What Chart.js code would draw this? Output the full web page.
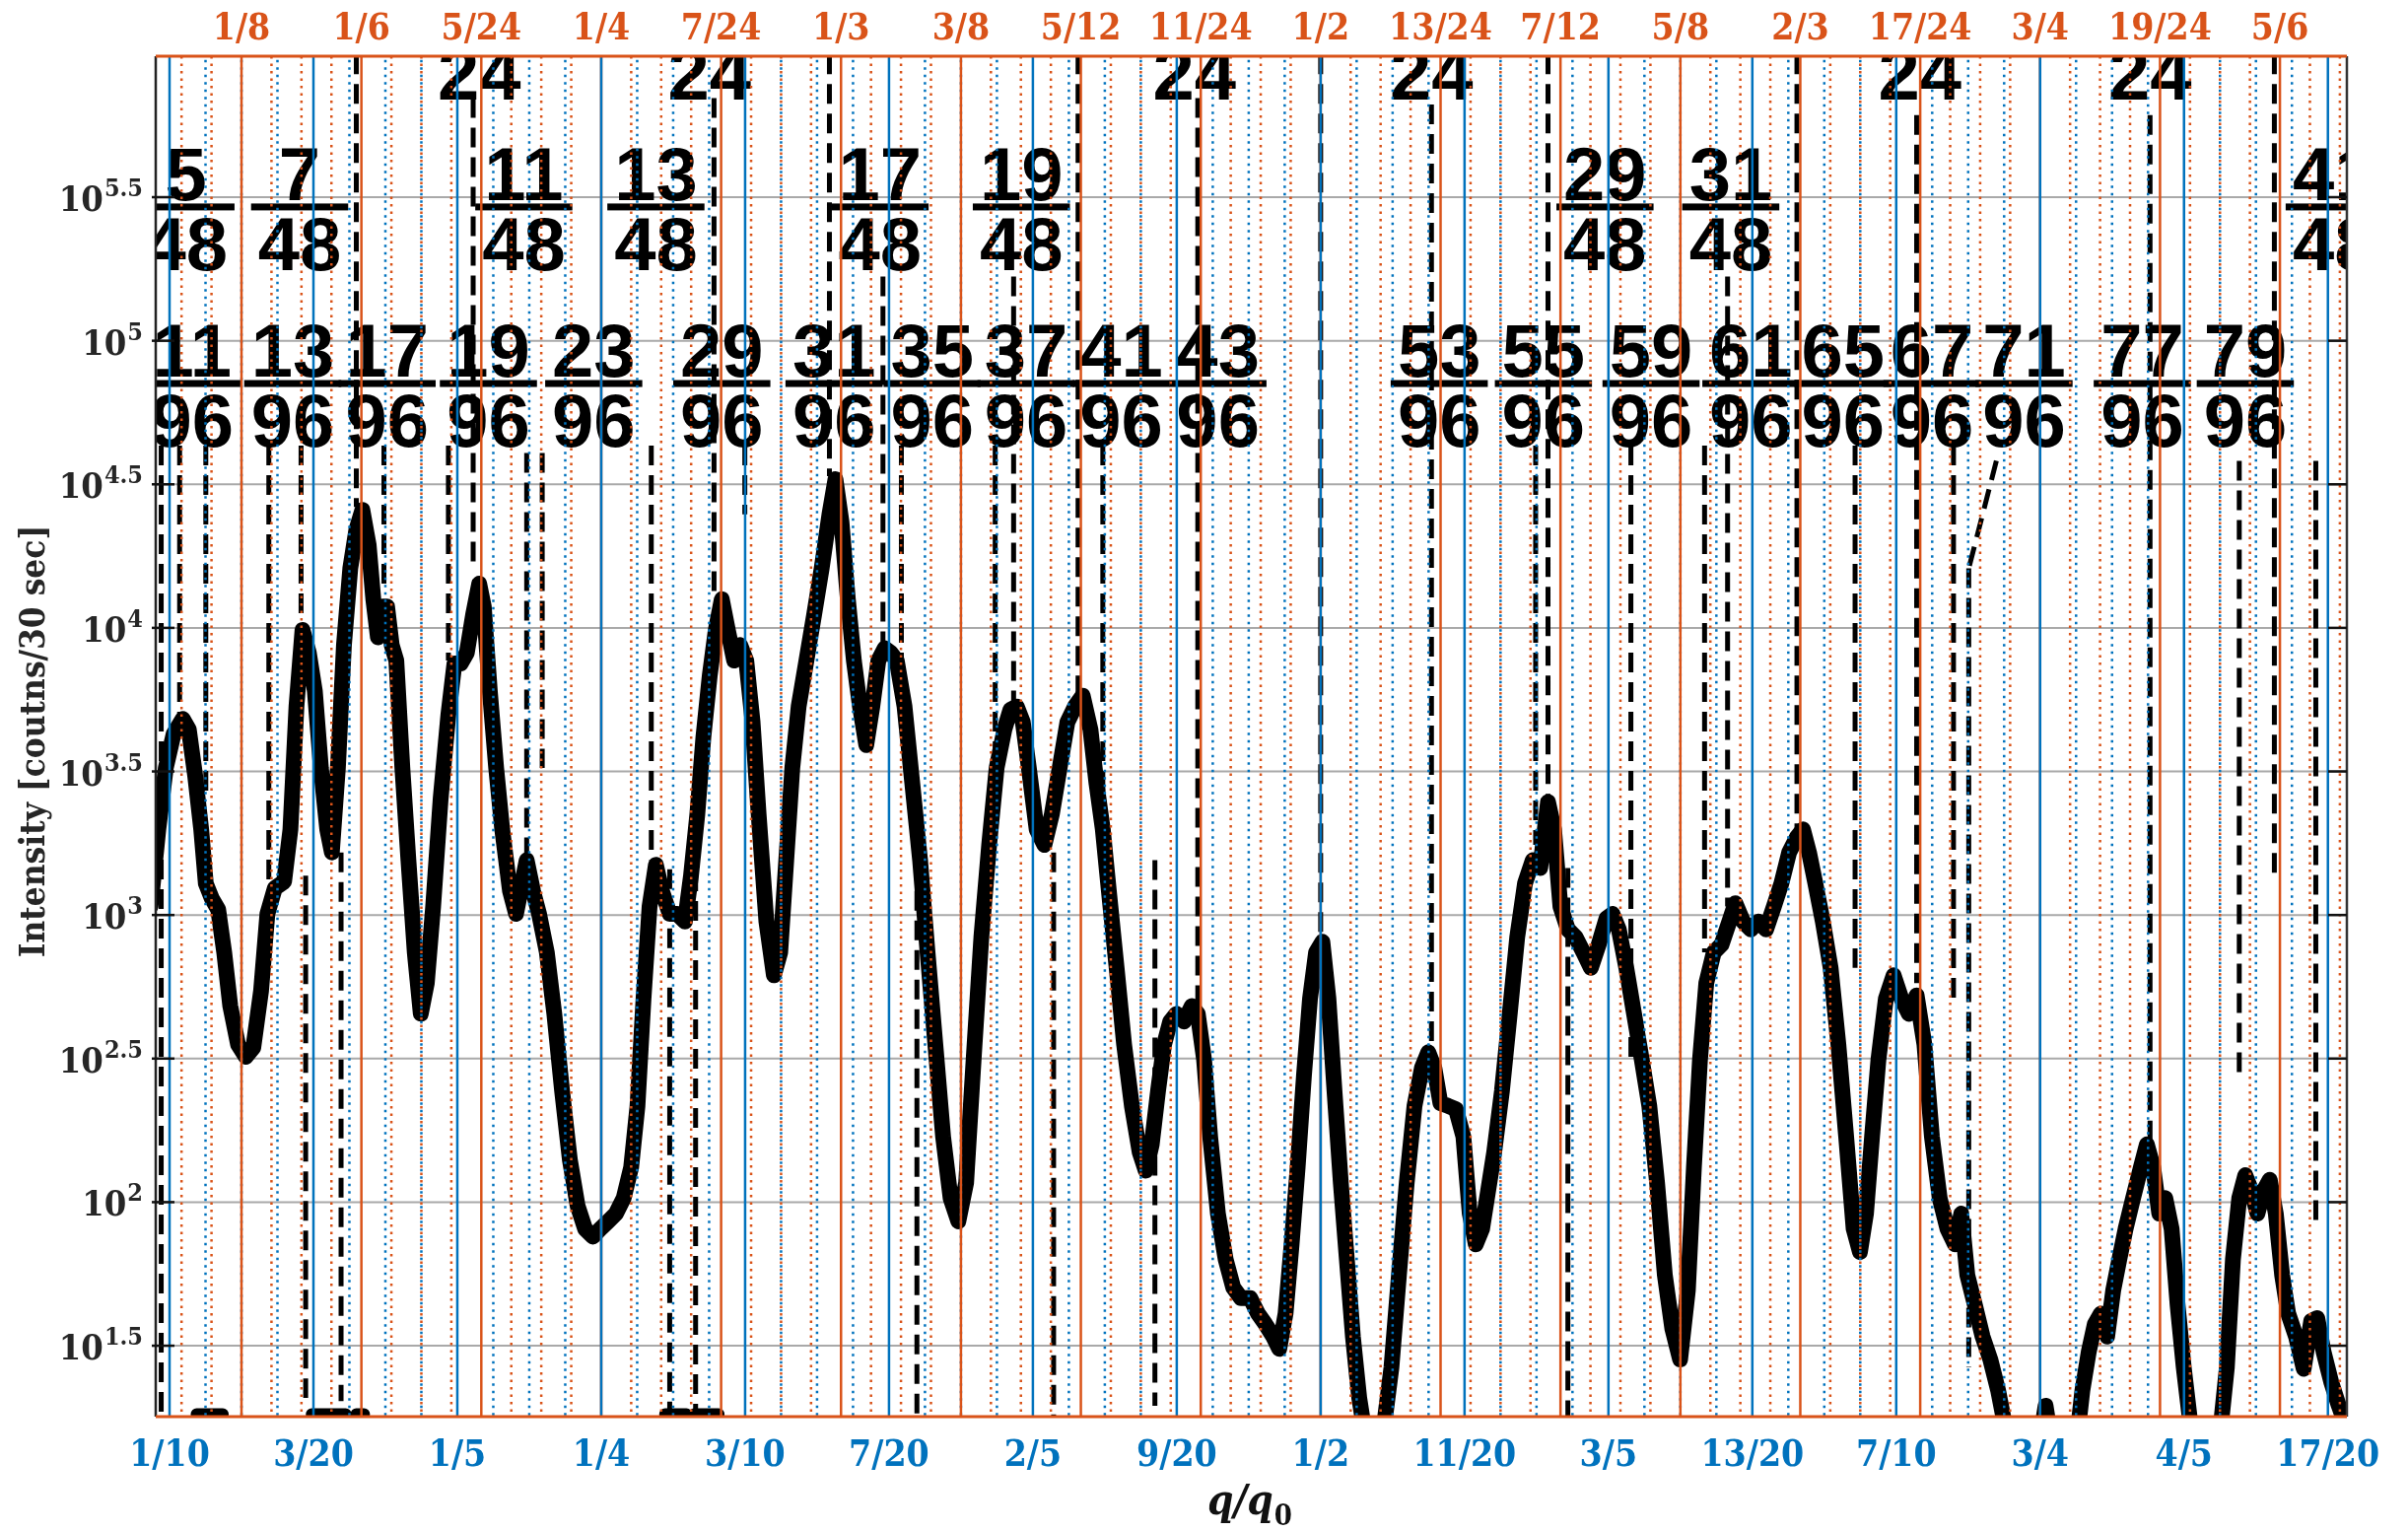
<!DOCTYPE html>
<html>
<head>
<meta charset="utf-8">
<script src="https://cdn.jsdelivr.net/npm/chart.js@4/dist/chart.umd.min.js"></script>
<style>
html,body{margin:0;padding:0;background:#fff;}
#wrap{width:2443px;height:1553px;position:relative;}
</style>
</head>
<body>
<div id="wrap"><canvas id="c" width="2443" height="1553"></canvas></div>
<script>
// ---------------- DATA ----------------
// Measured intensity curve: q/q0 and log10(intensity [counts/30 sec])
const qValues = [0.0934,0.0961,0.0987,0.1014,0.1046,0.1067,0.1089,0.1110,0.1126,0.1147,0.1169,0.1190,0.1211,0.1238,0.1265,0.1291,0.1318,0.1340,0.1366,0.1398,0.1420,0.1441,0.1462,0.1484,0.1505,0.1526,0.1548,0.1564,0.1585,0.1606,0.1628,0.1649,0.1670,0.1692,0.1708,0.1724,0.1740,0.1756,0.1772,0.1788,0.1809,0.1830,0.1852,0.1873,0.1894,0.1916,0.1942,0.1969,0.1990,0.2012,0.2033,0.2055,0.2076,0.2092,0.2113,0.2135,0.2156,0.2183,0.2204,0.2225,0.2241,0.2263,0.2284,0.2311,0.2337,0.2364,0.2391,0.2418,0.2444,0.2471,0.2497,0.2524,0.2551,0.2578,0.2604,0.2626,0.2647,0.2668,0.2690,0.2711,0.2738,0.2764,0.2791,0.2812,0.2834,0.2855,0.2877,0.2898,0.2919,0.2940,0.2962,0.2983,0.3004,0.3026,0.3047,0.3074,0.3100,0.3122,0.3143,0.3164,0.3186,0.3213,0.3240,0.3266,0.3293,0.3314,0.3335,0.3357,0.3378,0.3399,0.3421,0.3442,0.3463,0.3485,0.3506,0.3527,0.3554,0.3581,0.3608,0.3634,0.3661,0.3688,0.3714,0.3741,0.3768,0.3794,0.3821,0.3848,0.3874,0.3901,0.3922,0.3944,0.3965,0.3986,0.4013,0.4040,0.4066,0.4093,0.4120,0.4146,0.4173,0.4200,0.4221,0.4243,0.4264,0.4291,0.4317,0.4344,0.4371,0.4392,0.4413,0.4435,0.4456,0.4477,0.4499,0.4525,0.4552,0.4573,0.4595,0.4616,0.4643,0.4670,0.4696,0.4723,0.4755,0.4782,0.4808,0.4835,0.4856,0.4878,0.4899,0.4920,0.4942,0.4963,0.4984,0.5006,0.5027,0.5048,0.5070,0.5091,0.5112,0.5134,0.5155,0.5187,0.5219,0.5246,0.5272,0.5299,0.5326,0.5352,0.5374,0.5395,0.5416,0.5443,0.5470,0.5496,0.5518,0.5539,0.5561,0.5582,0.5603,0.5630,0.5657,0.5683,0.5710,0.5737,0.5763,0.5790,0.5811,0.5833,0.5859,0.5886,0.5913,0.5939,0.5966,0.5993,0.6014,0.6036,0.6062,0.6089,0.6116,0.6142,0.6169,0.6196,0.6222,0.6249,0.6276,0.6297,0.6318,0.6340,0.6366,0.6393,0.6420,0.6441,0.6468,0.6495,0.6521,0.6548,0.6575,0.6601,0.6628,0.6655,0.6676,0.6697,0.6719,0.6745,0.6772,0.6799,0.6826,0.6852,0.6874,0.6895,0.6916,0.6938,0.6964,0.6991,0.7018,0.7044,0.7071,0.7098,0.7124,0.7151,0.7178,0.7204,0.7226,0.7247,0.7274,0.7300,0.7327,0.7354,0.7380,0.7412,0.7455,0.7498,0.7519,0.7540,0.7588,0.7626,0.7647,0.7669,0.7690,0.7711,0.7733,0.7754,0.7775,0.7797,0.7823,0.7850,0.7871,0.7893,0.7914,0.7935,0.7957,0.7978,0.7999,0.8021,0.8042,0.8095,0.8127,0.8149,0.8170,0.8192,0.8213,0.8234,0.8255,0.8277,0.8298,0.8319,0.8341,0.8362,0.8389,0.8416,0.8442,0.8463,0.8485,0.8512,0.8538,0.8576];
const intensityLog10 = [3.03,3.298,3.512,3.630,3.683,3.646,3.485,3.298,3.110,3.057,3.019,2.870,2.683,2.549,2.506,2.538,2.736,3.004,3.094,3.116,3.298,3.726,3.993,3.913,3.779,3.512,3.298,3.218,3.512,3.940,4.207,4.341,4.411,4.288,4.100,3.967,4.074,4.074,3.940,3.886,3.512,3.191,2.870,2.656,2.763,3.030,3.405,3.699,3.876,3.876,3.913,4.047,4.154,4.074,3.779,3.512,3.298,3.084,3.004,3.110,3.191,3.084,3.004,2.870,2.656,2.388,2.148,1.987,1.907,1.880,1.907,1.933,1.960,2.014,2.121,2.335,2.709,3.030,3.175,3.084,3.004,3.004,2.977,3.137,3.351,3.619,3.833,3.993,4.100,3.993,3.886,3.940,3.886,3.672,3.351,2.977,2.790,2.870,3.191,3.512,3.726,3.886,4.047,4.207,4.395,4.518,4.368,4.100,3.886,3.726,3.592,3.726,3.886,3.929,3.913,3.886,3.726,3.458,3.191,2.870,2.549,2.228,2.014,1.933,2.067,2.495,2.923,3.244,3.512,3.646,3.715,3.726,3.672,3.512,3.298,3.244,3.351,3.512,3.672,3.726,3.764,3.646,3.458,3.298,3.084,2.816,2.549,2.335,2.174,2.110,2.201,2.388,2.549,2.629,2.656,2.629,2.683,2.656,2.495,2.228,1.960,1.800,1.703,1.666,1.666,1.612,1.575,1.532,1.489,1.612,1.853,2.121,2.442,2.709,2.870,2.907,2.709,2.388,2.067,1.800,1.532,1.318,1.184,1.158,1.211,1.425,1.746,2.067,2.335,2.468,2.522,2.468,2.345,2.335,2.324,2.228,1.960,1.853,1.907,2.040,2.174,2.388,2.656,2.923,3.110,3.191,3.164,3.394,3.298,3.030,2.950,2.923,2.870,2.816,2.897,2.988,3.004,2.950,2.816,2.656,2.495,2.335,2.067,1.746,1.559,1.452,1.693,2.121,2.495,2.763,2.870,2.897,2.977,3.041,2.977,2.950,2.977,2.950,3.030,3.110,3.218,3.271,3.298,3.218,3.110,2.977,2.816,2.549,2.228,1.907,1.826,1.960,2.228,2.495,2.709,2.790,2.709,2.656,2.720,2.549,2.228,2.014,1.907,1.853,1.960,1.746,1.639,1.532,1.452,1.345,1.211,1.104,1.05,1.158,1.291,1.158,1.05,1.158,1.345,1.479,1.575,1.612,1.532,1.693,1.800,1.907,2.014,2.121,2.201,2.121,1.960,2.014,1.907,1.639,1.425,1.238,1.131,1.104,1.211,1.425,1.800,2.014,2.094,2.040,1.960,2.040,2.078,1.960,1.746,1.612,1.532,1.420,1.586,1.596,1.479,1.372,1.291,1.184];

// Axis tick labels
const bottomTickLabels = ['1/10','3/20','1/5','1/4','3/10','7/20','2/5','9/20','1/2','11/20','3/5','13/20','7/10','3/4','4/5','17/20'];
const topTickLabels = ['1/8','1/6','5/24','1/4','7/24','1/3','3/8','5/12','11/24','1/2','13/24','7/12','5/8','2/3','17/24','3/4','19/24','5/6'];
const yTickExponents = [1.5,2,2.5,3,3.5,4,4.5,5,5.5];

// Fraction annotations (numerator, denominator, label centre in q/q0)
const fracNum = [5,7,11,13,17,19, 5,7,11,13,17,19,29,31,41, 11,13,17,19,23,29,31,35,37,41,43,53,55,59,61,65,67,71,77,79];
const fracDen = [24,24,24,24,24,24, 48,48,48,48,48,48,48,48,48, 96,96,96,96,96,96,96,96,96,96,96,96,96,96,96,96,96,96,96,96];
const fracLabelQ = [0.2076,0.2876,0.4561,0.5385,0.7082,0.7882, 0.1057,0.1452,0.2231,0.2690,0.3469,0.3960,0.5988,0.6425,0.8522, 0.1078,0.1428,0.1756,0.2108,0.2474,0.2919,0.3309,0.3650,0.3976,0.4307,0.4643,0.5412,0.5774,0.6148,0.6495,0.6815,0.7124,0.7444,0.7855,0.8213];
// Fraction-bar heights (log10 intensity) for denominators 24, 48, 96
const fracBarLog10 = {24: 6.06, 48: 5.466, 96: 4.851};

// Black dashed guide lines: q/q0 positions and log10 extents
const dashQ = [0.0971,0.1035,0.1126,0.1345,0.1457,0.1473,0.1596,0.1649,0.1745,0.1969,0.2055,0.2241,0.2295,0.2674,0.2738,0.2828,0.2892,0.2999,0.3293,0.3479,0.3543,0.3597,0.3869,0.3933,0.4072,0.4157,0.4243,0.4424,0.4573,0.5000,0.5385,0.5747,0.5790,0.5859,0.6078,0.6334,0.6414,0.6655,0.6857,0.7071,0.7199,0.7252,0.7882,0.8192,0.8314,0.8458];
const dashTopLog10 = [4.635,4.635,4.635,4.635,4.635,3.137,3.218,6.1,4.635,4.635,5.845,4.609,4.609,4.635,3.159,3.255,5.845,4.635,6.1,5.224,4.635,3.084,4.635,5.224,3.218,6.1,4.635,3.191,5.845,6.1,5.823,4.635,6.1,3.164,4.635,4.635,5.224,6.1,4.635,5.786,4.635,4.207,5.786,4.582,6.1,4.582];
const dashBottomLog10 = [1.2,3.672,3.432,3.073,4.004,1.318,1.307,4.421,4.127,3.886,4.207,3.191,3.512,3.191,1.2,1.2,4.127,4.395,4.528,3.913,3.672,1.2,3.298,3.726,1.2,3.753,3.405,1.291,2.683,2.913,2.533,3.244,3.405,1.2,2.495,2.870,3.030,3.298,2.816,2.763,2.709,1.425,2.201,2.442,3.137,1.907];
// slanted leader of the 71/96 label
const leaderQ = [0.7348,0.7252];
const leaderLog10 = [4.582,4.207];
// short heavy marks resting on the lower axis (start / end q/q0)
const floorMarkStart = [0.1094,0.1494,0.1649,0.2722,0.2823];
const floorMarkEnd   = [0.1185,0.1612,0.1676,0.2796,0.2908];
const floorMarkLog10 = 1.262;

// ---------------- BUILD ----------------
const curveData = qValues.map((q,i)=>({x:q, y:Math.pow(10,intensityLog10[i])}));
const dashData = [];
dashQ.forEach((q,i)=>{
  dashData.push({x:q, y:Math.pow(10,dashTopLog10[i])});
  dashData.push({x:q, y:Math.pow(10,dashBottomLog10[i])});
  dashData.push({x:q, y:null});
});
leaderQ.forEach((q,i)=>dashData.push({x:q, y:Math.pow(10,leaderLog10[i])}));
dashData.push({x:null,y:null});
const floorData = [];
floorMarkStart.forEach((q,i)=>{
  floorData.push({x:q, y:Math.pow(10,floorMarkLog10)});
  floorData.push({x:floorMarkEnd[i], y:Math.pow(10,floorMarkLog10)});
  floorData.push({x:floorMarkEnd[i], y:null});
});

const frac = s => { const p = s.split('/'); return (+p[0])/(+p[1]); };
const BLUE = '#0072BD', ORANGE = '#D95319', DARK = '#262626';
const SERIF = "'DejaVu Serif Condensed','DejaVu Serif',serif";

const X_MIN = 0.0952, X_MAX = 0.8566;
const Y_MIN = Math.pow(10,1.253), Y_MAX = Math.pow(10,5.991);

function drawSup(ctx, base, sup, xRight, py, fBase, fSup){
  ctx.font = fBase; const wb = ctx.measureText(base).width;
  ctx.font = fSup; const ws = ctx.measureText(sup).width;
  const x0 = xRight - wb - ws;
  ctx.textAlign='left'; ctx.textBaseline='alphabetic';
  ctx.font = fBase; ctx.fillText(base, x0, py+14);
  ctx.font = fSup; ctx.fillText(sup, x0+wb+1, py-1);
}

const overlay = {
  id:'overlay',
  beforeDatasetsDraw(chart){
    const {ctx, chartArea:a, scales:{y}} = chart;
    ctx.save();
    ctx.strokeStyle='rgba(140,140,140,0.75)'; ctx.lineWidth=2;
    yTickExponents.forEach(e=>{
      const py = y.getPixelForValue(Math.pow(10,e));
      ctx.beginPath(); ctx.moveTo(a.left,py); ctx.lineTo(a.right,py); ctx.stroke();
    });
    ctx.restore();
  },
  afterDatasetsDraw(chart){
    const {ctx, chartArea:a, scales:{x,y}} = chart;
    ctx.save();
    ctx.beginPath(); ctx.rect(a.left,a.top,a.right-a.left,a.bottom-a.top); ctx.clip();
    // fraction annotations
    ctx.fillStyle='#000';
    ctx.font = "bold 76px 'Liberation Sans', Arial, sans-serif";
    fracNum.forEach((n,i)=>{
      const d = fracDen[i];
      const cx = x.getPixelForValue(fracLabelQ[i]);
      const by = y.getPixelForValue(Math.pow(10,fracBarLog10[d]));
      const ns = String(n), ds = String(d);
      const w = Math.max(ctx.measureText(ns).width, ctx.measureText(ds).width) + 14;
      ctx.textAlign='center'; ctx.textBaseline='alphabetic';
      ctx.fillText(ns, cx, by-7);
      ctx.fillRect(cx-w/2, by-3.5, w, 7);
      ctx.fillText(ds, cx, by+64);
    });
    // dotted fine grid
    ctx.lineWidth = 2.5;
    ctx.setLineDash([2.5,5]);
    for(let n=Math.ceil(X_MIN*96); n<=Math.floor(X_MAX*96); n++){
      if(n%4===0) continue;
      const px = x.getPixelForValue(n/96);
      ctx.strokeStyle=ORANGE; ctx.lineDashOffset=0;
      ctx.beginPath(); ctx.moveTo(px,a.top); ctx.lineTo(px,a.bottom); ctx.stroke();
    }
    for(let n=Math.ceil(X_MIN*80); n<=Math.floor(X_MAX*80); n++){
      if(n%4===0) continue;
      const px = x.getPixelForValue(n/80);
      ctx.strokeStyle=BLUE; ctx.lineDashOffset=3.7;
      ctx.beginPath(); ctx.moveTo(px,a.top); ctx.lineTo(px,a.bottom); ctx.stroke();
    }
    ctx.setLineDash([]);
    // solid lines
    ctx.lineWidth = 2.5;
    topTickLabels.forEach(s=>{
      const px = x.getPixelForValue(frac(s));
      ctx.strokeStyle=ORANGE; ctx.beginPath(); ctx.moveTo(px,a.top); ctx.lineTo(px,a.bottom); ctx.stroke();
    });
    bottomTickLabels.forEach(s=>{
      const px = x.getPixelForValue(frac(s));
      ctx.strokeStyle=BLUE; ctx.beginPath(); ctx.moveTo(px,a.top); ctx.lineTo(px,a.bottom); ctx.stroke();
    });
    ctx.restore();

    ctx.save();
    // frame
    ctx.lineWidth=2.5; ctx.strokeStyle='#222';
    ctx.beginPath(); ctx.moveTo(a.left,a.top); ctx.lineTo(a.left,a.bottom); ctx.stroke();
    ctx.strokeStyle='#333';
    ctx.beginPath(); ctx.moveTo(a.right,a.top); ctx.lineTo(a.right,a.bottom); ctx.stroke();
    ctx.strokeStyle=ORANGE; ctx.lineWidth=3;
    ctx.beginPath(); ctx.moveTo(a.left,a.top); ctx.lineTo(a.right,a.top); ctx.stroke();
    ctx.beginPath(); ctx.moveTo(a.left,a.bottom); ctx.lineTo(a.right,a.bottom); ctx.stroke();
    // y ticks
    ctx.strokeStyle='#111'; ctx.lineWidth=2.5;
    yTickExponents.forEach(e=>{
      const py = y.getPixelForValue(Math.pow(10,e));
      ctx.beginPath(); ctx.moveTo(a.left-4,py); ctx.lineTo(a.left+19,py); ctx.stroke();
      ctx.beginPath(); ctx.moveTo(a.right-19,py); ctx.lineTo(a.right,py); ctx.stroke();
    });
    // y tick labels
    ctx.fillStyle=DARK;
    yTickExponents.forEach(e=>{
      const py = y.getPixelForValue(Math.pow(10,e));
      drawSup(ctx,'10',String(e), a.left-14, py, "bold 36px "+SERIF, "bold 25px "+SERIF);
    });
    // bottom tick labels
    ctx.fillStyle=BLUE; ctx.font="bold 37px "+SERIF; ctx.textAlign='center'; ctx.textBaseline='alphabetic';
    bottomTickLabels.forEach(s=>{
      ctx.fillText(s, x.getPixelForValue(frac(s)), a.bottom+50);
    });
    // top tick labels
    ctx.fillStyle=ORANGE;
    topTickLabels.forEach(s=>{
      ctx.fillText(s, x.getPixelForValue(frac(s)), a.top-17);
    });
    // x title q/q0
    ctx.fillStyle='#111';
    ctx.font="italic bold 42px "+SERIF;
    const t1='q/q'; const w1=ctx.measureText(t1).width;
    ctx.font="bold 29px "+SERIF; const w2=ctx.measureText('0').width;
    const cx=(a.left+a.right)/2 - 2; const x0=cx-(w1+w2)/2;
    ctx.textAlign='left';
    ctx.font="italic bold 42px "+SERIF; ctx.fillText(t1,x0,1536);
    ctx.font="bold 29px "+SERIF; ctx.fillText('0',x0+w1+1,1547);
    // y title
    ctx.fillStyle=DARK;
    ctx.translate(36,(a.top+a.bottom)/2+5); ctx.rotate(-Math.PI/2);
    ctx.textAlign='center'; ctx.textBaseline='middle';
    const yt='Intensity [coutns/30 sec]';
    let fs=30; ctx.font="bold "+fs+"px "+SERIF;
    const mw=ctx.measureText(yt).width; fs=fs*438/mw; ctx.font="bold "+fs.toFixed(1)+"px "+SERIF;
    ctx.fillText(yt,0,0);
    ctx.restore();
  }
};

new Chart(document.getElementById('c'), {
  type:'line',
  data:{datasets:[
    {data:curveData, borderColor:'#000', borderWidth:16, pointRadius:0, tension:0, borderJoinStyle:'round', borderCapStyle:'round'},
    {data:dashData, borderColor:'#000', borderWidth:5, borderDash:[20,10], pointRadius:0, spanGaps:false, tension:0},
    {data:floorData, borderColor:'#000', borderWidth:12, pointRadius:0, spanGaps:false, tension:0, borderCapStyle:'round'}
  ]},
  options:{
    responsive:false, animation:false, devicePixelRatio:1,
    layout:{padding:{left:158,right:62,top:57,bottom:116}},
    plugins:{legend:{display:false}, tooltip:{enabled:false}},
    scales:{
      x:{type:'linear', min:X_MIN, max:X_MAX, display:false},
      y:{type:'logarithmic', min:Y_MIN, max:Y_MAX, display:false}
    }
  },
  plugins:[overlay]
});
</script>
</body>
</html>
